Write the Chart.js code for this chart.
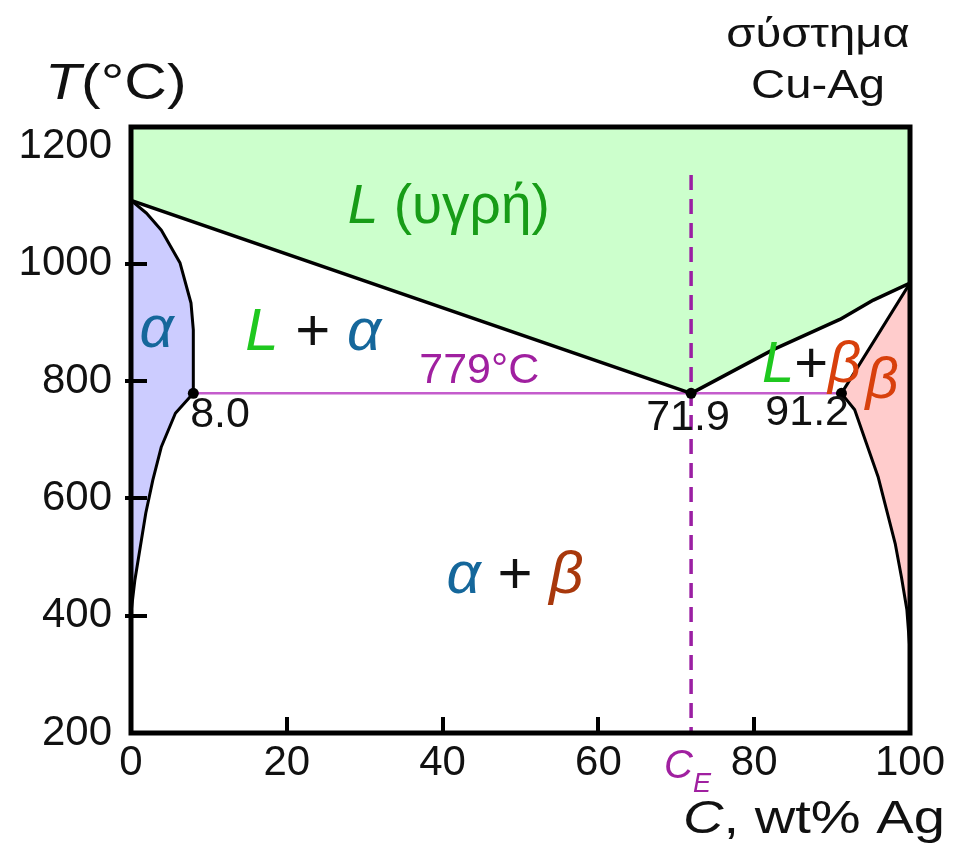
<!DOCTYPE html>
<html>
<head>
<meta charset="utf-8">
<script src="https://cdn.jsdelivr.net/npm/chart.js@4.4.1/dist/chart.umd.min.js"></script>
<style>
  html, body { margin: 0; padding: 0; background: #ffffff; }
  #wrap { width: 958px; height: 845px; }
</style>
</head>
<body>
<div id="wrap"><canvas id="c" width="958" height="845"></canvas></div>
<script>
// Axis ranges and tick values
const xTicks = [0, 20, 40, 60, 80, 100];
const yTicks = [200, 400, 600, 800, 1000, 1200];
const tMin = 200;
const tMax = 1233;
const cMin = 0;
const cMax = 100;

// Liquidus (wt% Ag, °C): Cu melting point -> eutectic -> Ag melting point
const liquidusC = [0, 71.9, 82.5, 91.0, 95.3, 100];
const liquidusT = [1108, 779, 854, 905, 938, 967];

// α phase boundary: solidus then solvus
const alphaC = [0, 2.0, 3.9, 6.3, 7.7, 8.0, 8.0, 8.0, 5.7, 3.9, 2.8, 1.9, 1.2, 0.5, 0];
const alphaT = [1108, 1086, 1057, 1001, 933, 887, 830, 779, 745, 688, 631, 575, 518, 461, 405];

// β phase boundary: solidus then solvus
const betaC = [100, 91.2, 92.9, 94.4, 95.9, 97.0, 98.1, 98.9, 99.6, 100];
const betaT = [967, 779, 751, 694, 637, 580, 523, 466, 410, 340];

// Eutectic isotherm and invariant compositions
const eutecticT = 779;
const eutecticC = [8.0, 71.9, 91.2];
const ceLineT = [1151, 200];

const FONT = "'Liberation Sans', Arial, Helvetica, sans-serif";
const GREEN_DARK = '#179c17';
const GREEN = '#1fc81f';
const BLUE = '#15679b';
const ORANGE = '#d8400c';
const BROWN = '#a8380c';
const PURPLE = '#a020a0';

const pts = (cs, ts) => cs.map((c, i) => ({ x: c, y: ts[i] }));

const liquidusPts = pts(liquidusC, liquidusT);
const liquidPoly = [{ x: cMin, y: tMax }, { x: cMax, y: tMax }].concat(liquidusPts.slice().reverse());
const alphaPts = pts(alphaC, alphaT);
const betaPts = pts(betaC, betaT);
const eutecticLine = [{ x: eutecticC[0], y: eutecticT }, { x: eutecticC[2], y: eutecticT }];
const ceLine = ceLineT.map(t => ({ x: eutecticC[1], y: t }));
const invariantPts = eutecticC.map(c => ({ x: c, y: eutecticT }));

// higher "order" is painted first (underneath)
function region(data, color) {
  return { data, order: 10, fill: 'shape', backgroundColor: color, borderColor: 'transparent', borderWidth: 0, pointRadius: 0, showLine: true, tension: 0 };
}
function curve(data, color, width, dash, order) {
  return { data, order: order || 5, fill: false, borderColor: color, borderWidth: width, borderDash: dash || [], pointRadius: 0, showLine: true, tension: 0, borderJoinStyle: 'round', borderCapStyle: 'butt' };
}

// Labels placed in data coordinates (wt% Ag, °C)
const phaseLabels = [
  { c: 40.8, t: 1069, align: 'center', parts: [['L', 'italic', 55, GREEN_DARK], [' (υγρή)', 'normal', 55, GREEN_DARK]] },
  { c: 23.4, t: 853, align: 'center', parts: [['L', 'italic', 60, GREEN], [' + ', 'normal', 60, '#111'], ['α', 'italic', 60, BLUE]] },
  { c: 3.3, t: 858, align: 'center', parts: [['α', 'italic', 60, BLUE]] },
  { c: 44.7, t: 796, align: 'center', parts: [['779°C', 'normal', 43, PURPLE]] },
  { c: 7.6, t: 722, align: 'left', parts: [['8.0', 'normal', 43, '#111']] },
  { c: 71.5, t: 716, align: 'center', parts: [['71.9', 'normal', 43, '#111']] },
  { c: 86.8, t: 725, align: 'center', parts: [['91.2', 'normal', 43, '#111']] },
  { c: 81.0, t: 798, align: 'left', parts: [['L', 'italic', 58, GREEN], ['+', 'normal', 58, '#111'], ['β', 'italic', 58, ORANGE]] },
  { c: 96.4, t: 771, align: 'center', parts: [['β', 'italic', 58, ORANGE]] },
  { c: 49.3, t: 439, align: 'center', parts: [['α', 'italic', 60, BLUE], [' + ', 'normal', 60, '#111'], ['β', 'italic', 60, BROWN]] }
];

function drawParts(ctx, x, y, parts, align, hScale) {
  hScale = hScale || 1;
  let total = 0;
  const widths = parts.map(p => {
    ctx.font = p[1] + ' ' + p[2] + 'px ' + FONT;
    const w = ctx.measureText(p[0]).width * hScale;
    total += w;
    return w;
  });
  let cx = align === 'center' ? x - total / 2 : (align === 'right' ? x - total : x);
  parts.forEach((p, i) => {
    ctx.save();
    ctx.font = p[1] + ' ' + p[2] + 'px ' + FONT;
    ctx.fillStyle = p[3];
    ctx.textBaseline = 'alphabetic';
    ctx.textAlign = 'left';
    ctx.translate(cx, y + (p[4] || 0));
    ctx.scale(hScale, 1);
    ctx.fillText(p[0], 0, 0);
    ctx.restore();
    cx += widths[i];
  });
}

const decorations = {
  id: 'decorations',
  afterDatasetsDraw(chart) {
    const { ctx, chartArea: a, scales: { x, y } } = chart;
    ctx.save();
    // frame
    ctx.strokeStyle = '#000';
    ctx.lineWidth = 5;
    ctx.strokeRect(a.left, a.top, a.right - a.left, a.bottom - a.top);
    // tick marks
    ctx.lineWidth = 4;
    ctx.beginPath();
    yTicks.slice(1, -1).forEach(v => {
      const py = Math.round(y.getPixelForValue(v));
      ctx.moveTo(a.left - 6, py);
      ctx.lineTo(a.left + 16, py);
    });
    xTicks.slice(1, -1).forEach(v => {
      const px = Math.round(x.getPixelForValue(v));
      ctx.moveTo(px, a.bottom);
      ctx.lineTo(px, a.bottom - 16);
    });
    ctx.stroke();
    ctx.restore();

    ctx.save();
    phaseLabels.forEach(l => drawParts(ctx, x.getPixelForValue(l.c), y.getPixelForValue(l.t), l.parts, l.align));

    // composition marker on the x axis
    const ce = x.getPixelForValue(eutecticC[1]);
    drawParts(ctx, ce - 27, a.bottom + 45, [['C', 'italic', 40, PURPLE], ['E', 'italic', 27, PURPLE, 14]], 'left');

    // axis titles and system name
    drawParts(ctx, 45, 99, [['T', 'italic', 50, '#111'], ['(°C)', 'normal', 50, '#111']], 'left', 1.18);
    drawParts(ctx, 814, 833, [['C', 'italic', 46, '#111'], [', wt% Ag', 'normal', 46, '#111']], 'center', 1.22);
    drawParts(ctx, 818, 47, [['σύστημα', 'normal', 40, '#111']], 'center', 1.18);
    drawParts(ctx, 818, 98, [['Cu-Ag', 'normal', 40, '#111']], 'center', 1.18);
    ctx.restore();
  }
};

new Chart(document.getElementById('c'), {
  type: 'scatter',
  data: {
    datasets: [
      region(liquidPoly, '#ccffcc'),
      region(alphaPts, '#ccccff'),
      region(betaPts, '#ffcccc'),
      curve(eutecticLine, '#c45ccc', 2.5, null, 7),
      curve(ceLine, '#9b1fa3', 3.5, [15, 9], 6),
      curve(liquidusPts, '#000', 3.5),
      curve(alphaPts, '#000', 3),
      curve(betaPts, '#000', 3),
      { data: invariantPts, order: 0, showLine: false, pointRadius: 5.5, pointBackgroundColor: '#000', pointBorderColor: '#000', pointBorderWidth: 0 }
    ]
  },
  options: {
    responsive: false,
    animation: false,
    events: [],
    devicePixelRatio: 1,
    layout: { padding: { left: 0, right: 48, top: 127, bottom: 0 } },
    plugins: { legend: { display: false }, tooltip: { enabled: false }, title: { display: false } },
    scales: {
      x: {
        type: 'linear', min: cMin, max: cMax,
        afterBuildTicks: s => { s.ticks = xTicks.map(v => ({ value: v })); },
        afterFit: s => { s.height = 112; },
        grid: { display: false, drawTicks: false },
        border: { display: false },
        ticks: { color: '#111', padding: 5, maxRotation: 0, font: { family: FONT, size: 42 }, callback: v => String(v) }
      },
      y: {
        type: 'linear', min: tMin, max: tMax,
        afterBuildTicks: s => { s.ticks = yTicks.map(v => ({ value: v })); },
        afterFit: s => { s.width = 131; },
        grid: { display: false, drawTicks: false },
        border: { display: false },
        ticks: { color: '#111', padding: 19, font: { family: FONT, size: 42 }, callback: v => String(v) }
      }
    }
  },
  plugins: [decorations]
});
</script>
</body>
</html>
